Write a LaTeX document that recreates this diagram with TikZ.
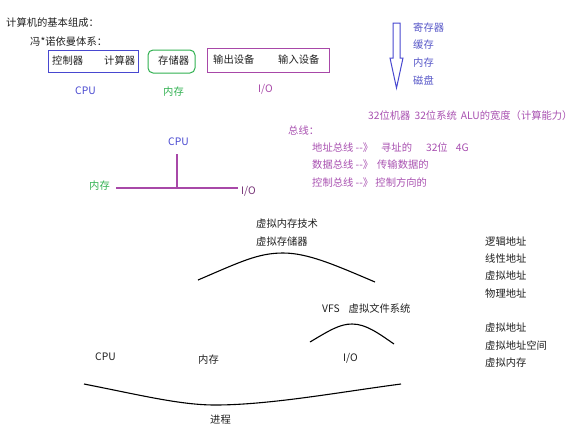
\documentclass[tikz,border=0pt]{standalone}
\usepackage{fontspec}
\setmainfont{Noto Sans CJK SC}
\definecolor{cpublue}{HTML}{4848D0}
\definecolor{memgreen}{HTML}{30B050}
\definecolor{iopurple}{HTML}{A848A8}
\definecolor{txtpurple}{HTML}{A850B0}
\definecolor{listblue}{HTML}{5858C8}
\definecolor{txtblack}{HTML}{202020}
\begin{document}
\begin{tikzpicture}[x=1pt,y=-1pt,
  every node/.style={font=\fontsize{10.3}{12}\selectfont, inner sep=0pt, anchor=west, text=txtblack},
  ptxt/.style={text=txtpurple},
  btxt/.style={text=listblue},
  curve/.style={draw=black, line width=1.1pt},
  busline/.style={draw=iopurple, line width=1.3pt}]
\useasboundingbox (0,0) rectangle (583,445);

% heading
\node (t1) at (6,23) {计算机的基本组成：};
\node (t2) at (30,42) {冯*诺依曼体系：};

% boxes
\draw[cpublue, line width=1pt] (48,50) rectangle (138,72);
\node (ctl) at (52,61) {控制器};
\node (calc) at (104,61) {计算器};
\draw[memgreen, line width=1pt, rounded corners=5pt] (148,50) rectangle (195,73);
\node (stor) at (158,61) {存储器};
\draw[iopurple, line width=1pt] (207,48) rectangle (329,72);
\node (out) at (213,60) {输出设备};
\node (in) at (278,60) {输入设备};

\node[text=cpublue] (cpu1) at (75,91) {CPU};
\node[text=memgreen] (mem1) at (163,92) {内存};
\node[text=iopurple] (io1) at (258,89) {I/O};

% hollow arrow
\draw[cpublue, line width=1pt, line join=miter]
  (393,23) -- (400,23) -- (400,58) -- (403,58) -- (396.5,88) -- (390,58) -- (393,58) -- cycle;
\node[btxt] (reg) at (413,28) {寄存器};
\node[btxt] (cache) at (413,45) {缓存};
\node[btxt] (mem2) at (413,63) {内存};
\node[btxt] (disk) at (413,80) {磁盘};

% bus text
\node[ptxt] (b32) at (368,116) {32位机器\hspace{4pt}32位系统\hspace{4pt}ALU的宽度（计算能力）};
\node[ptxt] (bus) at (288,131) {总线：};
\node[ptxt] (addr) at (312,148) {地址总线 {-}{-}》\hspace{8pt}寻址的\hspace{14pt}32位\hspace{8pt}4G};
\node[ptxt] (data) at (312,165) {数据总线 {-}{-}》\hspace{4pt}传输数据的};
\node[ptxt] (ctrl) at (312,183) {控制总线 {-}{-}》 控制方向的};

% bus diagram
\node[text=cpublue] (cpu2) at (168,142) {CPU};
\node[text=memgreen] (mem3) at (89,186) {内存};
\node[text=iopurple!70!black] (io2) at (241,191) {I/O};
\coordinate (bj) at (177,188);
\coordinate (btop) at (177,154);
\coordinate (bl) at (116,188);
\coordinate (br) at (238,188);
\draw[busline] (btop) -- (bj);
\draw[busline] (bl) -- (br);

% virtual memory
\node (vm1) at (256,224) {虚拟内存技术};
\node (vm2) at (256,242) {虚拟存储器};
\coordinate (h1a) at (198,280);
\coordinate (h1p) at (283,253);
\coordinate (h1b) at (375,282);
\draw[curve] (h1a) .. controls (240,262) and (258,253) .. (h1p) .. controls (308,253) and (335,265) .. (h1b);

\node (vfs) at (322,309) {VFS\hspace{9pt}虚拟文件系统};
\coordinate (h2a) at (310,342);
\coordinate (h2p) at (352,324);
\coordinate (h2b) at (394,344);
\draw[curve] (h2a) .. controls (330,330) and (340,324) .. (h2p) .. controls (366,324) and (378,333) .. (h2b);

\node (cpu3) at (95,357) {CPU};
\node (mem4) at (198,360) {内存};
\node (io3) at (343,358) {I/O};
\coordinate (h3a) at (84,384);
\coordinate (h3m) at (215,405);
\coordinate (h3b) at (401,384);
\draw[curve] (h3a) .. controls (140,395) and (180,405) .. (h3m) .. controls (270,405) and (340,392) .. (h3b);
\node (proc) at (210,420) {进程};

% right list
\node (la) at (485,242) {逻辑地址};
\node (lin) at (485,259) {线性地址};
\node (va) at (485,276) {虚拟地址};
\node (pa) at (485,294) {物理地址};
\node (va2) at (485,328) {虚拟地址};
\node (vas) at (485,346) {虚拟地址空间};
\node (vmem) at (485,363) {虚拟内存};
\end{tikzpicture}
\end{document}
